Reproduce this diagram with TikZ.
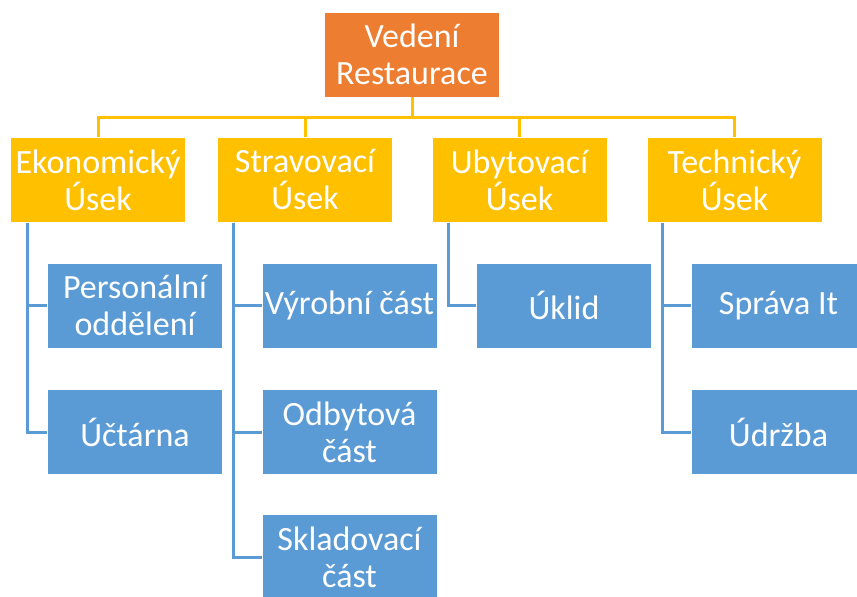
\documentclass[tikz,border=0pt]{standalone}
\usepackage{fontspec}
\setmainfont{Carlito}
\definecolor{headorange}{HTML}{ED7D31}
\definecolor{deptyellow}{HTML}{FFC000}
\definecolor{unitblue}{HTML}{5B9BD5}
\begin{document}
\begin{tikzpicture}[x=1pt,y=-1pt,
  box/.style={rectangle, draw=white, line width=0.8pt, text=white,
    minimum width=175pt, minimum height=85pt, inner sep=0pt, align=center,
    font=\fontsize{34}{37}\selectfont},
  headbox/.style={box, fill=headorange},
  deptbox/.style={box, fill=deptyellow},
  unitbox/.style={box, fill=unitblue},
  ylink/.style={draw=deptyellow, line width=3pt},
  blink/.style={draw=unitblue, line width=3pt}]
\useasboundingbox (0,0) rectangle (857,597);

% management
\node[headbox] (head) at (412,54.5) {Vedení\\Restaurace};

% departments
\node[deptbox] (ek) at (98,180) {Ekonomický\\Úsek};
\node[deptbox] (st) at (305,180) {Stravovací\\Úsek};
\node[deptbox] (ub) at (519.5,180) {Ubytovací\\Úsek};
\node[deptbox] (te) at (734.5,180) {Technický\\Úsek};

% units
\node[unitbox] (pers) at (135,305.5) {Personální\\oddělení};
\node[unitbox] (ucet) at (135,432) {Účtárna};
\node[unitbox] (vyr) at (349.5,305.5) {Výrobní část};
\node[unitbox] (odb) at (349.5,432) {Odbytová\\část};
\node[unitbox] (skl) at (349.5,557) {Skladovací\\část};
\node[unitbox] (ukl) at (564,305.5) {Úklid};
\node[unitbox] (spr) at (778.5,305.5) {Správa It};
\node[unitbox] (udr) at (778.5,432) {Údržba};

% bus from management to departments
\coordinate (bus) at ([yshift=-20pt]head.south);
\draw[ylink] (head.south) -- (bus);
\foreach \d in {ek,st,ub,te}
  \draw[ylink] (bus) -| (\d.north);

% department to unit connectors
\draw[blink] ([xshift=17pt]ek.south west) |- (pers.west);
\draw[blink] ([xshift=17pt]ek.south west) |- (ucet.west);
\draw[blink] ([xshift=16pt]st.south west) |- (vyr.west);
\draw[blink] ([xshift=16pt]st.south west) |- (odb.west);
\draw[blink] ([xshift=16pt]st.south west) |- (skl.west);
\draw[blink] ([xshift=17pt]ub.south west) |- (ukl.west);
\draw[blink] ([xshift=16pt]te.south west) |- (spr.west);
\draw[blink] ([xshift=16pt]te.south west) |- (udr.west);
\end{tikzpicture}
\end{document}
